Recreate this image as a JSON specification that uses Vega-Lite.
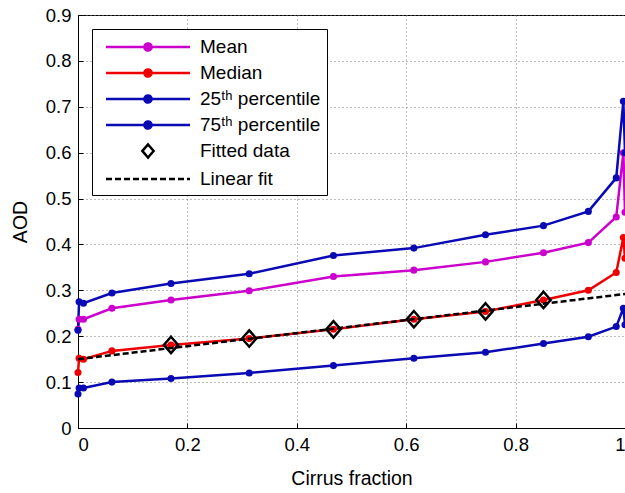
{
  "$schema": "https://vega.github.io/schema/vega-lite/v6.json",
  "width": 547,
  "height": 413,
  "autosize": "none",
  "padding": {"left": 78, "top": 15, "right": 0, "bottom": 65},
  "background": "white",
  "config": {
    "font": "Liberation Sans",
    "view": {"stroke": "black", "strokeWidth": 1},
    "axis": {
      "domainColor": "black",
      "tickColor": "black",
      "tickSize": -5,
      "labelPadding": 12,
      "labelFont": "Liberation Sans",
      "labelFontSize": 18.5,
      "labelColor": "black",
      "titleFont": "Liberation Sans",
      "titleFontSize": 19.5,
      "titleFontWeight": "normal",
      "titleColor": "black",
      "grid": true,
      "gridColor": "#777777",
      "gridDash": [1, 3],
      "gridWidth": 1,
      "gridOpacity": 1
    }
  },
  "datasets": {
    "stats": [
      {"series": "Mean", "x": 0, "y": 0.215},
      {"series": "Mean", "x": 0.002, "y": 0.237},
      {"series": "Mean", "x": 0.01, "y": 0.237},
      {"series": "Mean", "x": 0.062, "y": 0.261},
      {"series": "Mean", "x": 0.17, "y": 0.279},
      {"series": "Mean", "x": 0.313, "y": 0.299},
      {"series": "Mean", "x": 0.467, "y": 0.33},
      {"series": "Mean", "x": 0.614, "y": 0.344},
      {"series": "Mean", "x": 0.745, "y": 0.362},
      {"series": "Mean", "x": 0.851, "y": 0.382},
      {"series": "Mean", "x": 0.933, "y": 0.404},
      {"series": "Mean", "x": 0.984, "y": 0.46},
      {"series": "Mean", "x": 0.997, "y": 0.6},
      {"series": "Mean", "x": 1.0, "y": 0.47},
      {"series": "Median", "x": 0, "y": 0.121},
      {"series": "Median", "x": 0.002, "y": 0.152},
      {"series": "Median", "x": 0.01, "y": 0.15},
      {"series": "Median", "x": 0.062, "y": 0.168},
      {"series": "Median", "x": 0.17, "y": 0.181},
      {"series": "Median", "x": 0.313, "y": 0.195},
      {"series": "Median", "x": 0.467, "y": 0.215},
      {"series": "Median", "x": 0.614, "y": 0.237},
      {"series": "Median", "x": 0.745, "y": 0.254},
      {"series": "Median", "x": 0.851, "y": 0.279},
      {"series": "Median", "x": 0.933, "y": 0.3},
      {"series": "Median", "x": 0.984, "y": 0.339},
      {"series": "Median", "x": 0.997, "y": 0.415},
      {"series": "Median", "x": 1.0, "y": 0.37},
      {"series": "25ᵗʰ percentile", "x": 0, "y": 0.074},
      {"series": "25ᵗʰ percentile", "x": 0.002, "y": 0.087},
      {"series": "25ᵗʰ percentile", "x": 0.01, "y": 0.087},
      {"series": "25ᵗʰ percentile", "x": 0.062, "y": 0.1},
      {"series": "25ᵗʰ percentile", "x": 0.17, "y": 0.108},
      {"series": "25ᵗʰ percentile", "x": 0.313, "y": 0.12},
      {"series": "25ᵗʰ percentile", "x": 0.467, "y": 0.136},
      {"series": "25ᵗʰ percentile", "x": 0.614, "y": 0.152},
      {"series": "25ᵗʰ percentile", "x": 0.745, "y": 0.165},
      {"series": "25ᵗʰ percentile", "x": 0.851, "y": 0.184},
      {"series": "25ᵗʰ percentile", "x": 0.933, "y": 0.199},
      {"series": "25ᵗʰ percentile", "x": 0.984, "y": 0.221},
      {"series": "25ᵗʰ percentile", "x": 0.997, "y": 0.261},
      {"series": "25ᵗʰ percentile", "x": 1.0, "y": 0.225},
      {"series": "75ᵗʰ percentile", "x": 0, "y": 0.213},
      {"series": "75ᵗʰ percentile", "x": 0.002, "y": 0.275},
      {"series": "75ᵗʰ percentile", "x": 0.01, "y": 0.272},
      {"series": "75ᵗʰ percentile", "x": 0.062, "y": 0.294},
      {"series": "75ᵗʰ percentile", "x": 0.17, "y": 0.315},
      {"series": "75ᵗʰ percentile", "x": 0.313, "y": 0.336},
      {"series": "75ᵗʰ percentile", "x": 0.467, "y": 0.376},
      {"series": "75ᵗʰ percentile", "x": 0.614, "y": 0.392},
      {"series": "75ᵗʰ percentile", "x": 0.745, "y": 0.421},
      {"series": "75ᵗʰ percentile", "x": 0.851, "y": 0.441},
      {"series": "75ᵗʰ percentile", "x": 0.933, "y": 0.472},
      {"series": "75ᵗʰ percentile", "x": 0.984, "y": 0.545},
      {"series": "75ᵗʰ percentile", "x": 0.997, "y": 0.712},
      {"series": "75ᵗʰ percentile", "x": 1.0, "y": 0.6}
    ],
    "fitted": [
      {"series": "Fitted data", "x": 0.17, "y": 0.181},
      {"series": "Fitted data", "x": 0.313, "y": 0.195},
      {"series": "Fitted data", "x": 0.467, "y": 0.215},
      {"series": "Fitted data", "x": 0.614, "y": 0.237},
      {"series": "Fitted data", "x": 0.745, "y": 0.254},
      {"series": "Fitted data", "x": 0.851, "y": 0.279}
    ],
    "fit": [
      {"series": "Linear fit", "x": 0, "y": 0.15},
      {"series": "Linear fit", "x": 1, "y": 0.292}
    ]
  },
  "encoding": {
    "x": {
      "field": "x", "type": "quantitative",
      "scale": {"domain": [0, 1], "nice": false, "zero": false},
      "axis": {"values": [0, 0.2, 0.4, 0.6, 0.8, 1], "format": "~g", "title": "Cirrus fraction", "titlePadding": 16}
    },
    "y": {
      "field": "y", "type": "quantitative",
      "scale": {"domain": [0, 0.9], "nice": false},
      "axis": {"values": [0, 0.1, 0.2, 0.3, 0.4, 0.5, 0.6, 0.7, 0.8, 0.9], "format": "~g", "title": "AOD", "titlePadding": 15}
    }
  },
  "layer": [
    {
      "data": {"name": "stats"},
      "mark": {"type": "line", "strokeWidth": 2.5},
      "encoding": {
        "detail": {"field": "series"},
        "color": {
          "field": "series", "type": "nominal",
          "scale": {
            "domain": ["Mean", "Median", "25ᵗʰ percentile", "75ᵗʰ percentile", "Fitted data", "Linear fit"],
            "range": ["#cc00cc", "#ee0000", "#0a0ab4", "#0a0ab4", "black", "black"]
          },
          "legend": {
            "title": null,
            "orient": "top-left",
            "offset": 14,
            "strokeColor": "black",
            "fillColor": "white",
            "padding": 6,
            "symbolSize": 441,
            "symbolStrokeWidth": 2.5,
            "symbolOffset": 38,
            "labelOffset": 40,
            "labelFont": "Liberation Sans",
            "labelFontSize": 19,
            "labelColor": "black",
            "rowPadding": 4,
            "encode": {"symbols": {"update": {"fill": {"scale": "fill", "field": "value"}}}}
          }
        }
      }
    },
    {
      "data": {"name": "stats"},
      "mark": {"type": "point", "filled": true, "shape": "circle", "size": 50, "opacity": 1},
      "encoding": {
        "fill": {
          "field": "series", "type": "nominal",
          "scale": {
            "domain": ["Mean", "Median", "25ᵗʰ percentile", "75ᵗʰ percentile", "Fitted data", "Linear fit"],
            "range": ["#cc00cc", "#ee0000", "#0a0ab4", "#0a0ab4", "transparent", "transparent"]
          },
          "legend": {"title": null}
        }
      }
    },
    {
      "data": {"name": "fitted"},
      "mark": {"type": "point", "filled": false, "size": 700, "stroke": "black", "strokeWidth": 2.5, "opacity": 1},
      "encoding": {
        "shape": {
          "field": "series", "type": "nominal",
          "scale": {
            "domain": ["Mean", "Median", "25ᵗʰ percentile", "75ᵗʰ percentile", "Fitted data", "Linear fit"],
            "range": [
              "M-4,0H4M-0.34,0A0.34,0.34 0 1,0 0.34,0A0.34,0.34 0 1,0 -0.34,0Z",
              "M-4,0H4M-0.34,0A0.34,0.34 0 1,0 0.34,0A0.34,0.34 0 1,0 -0.34,0Z",
              "M-4,0H4M-0.34,0A0.34,0.34 0 1,0 0.34,0A0.34,0.34 0 1,0 -0.34,0Z",
              "M-4,0H4M-0.34,0A0.34,0.34 0 1,0 0.34,0A0.34,0.34 0 1,0 -0.34,0Z",
              "M0,-0.62L0.54,0L0,0.62L-0.54,0Z",
              "M-4,0H4"
            ]
          },
          "legend": {"title": null}
        }
      }
    },
    {
      "data": {"name": "fit"},
      "mark": {"type": "line", "strokeWidth": 2.5},
      "encoding": {
        "color": {"field": "series", "type": "nominal"},
        "strokeDash": {
          "field": "series", "type": "nominal",
          "scale": {
            "domain": ["Mean", "Median", "25ᵗʰ percentile", "75ᵗʰ percentile", "Fitted data", "Linear fit"],
            "range": [[1, 0], [1, 0], [1, 0], [1, 0], [1, 0], [6, 3]]
          },
          "legend": {"title": null}
        }
      }
    }
  ]
}
